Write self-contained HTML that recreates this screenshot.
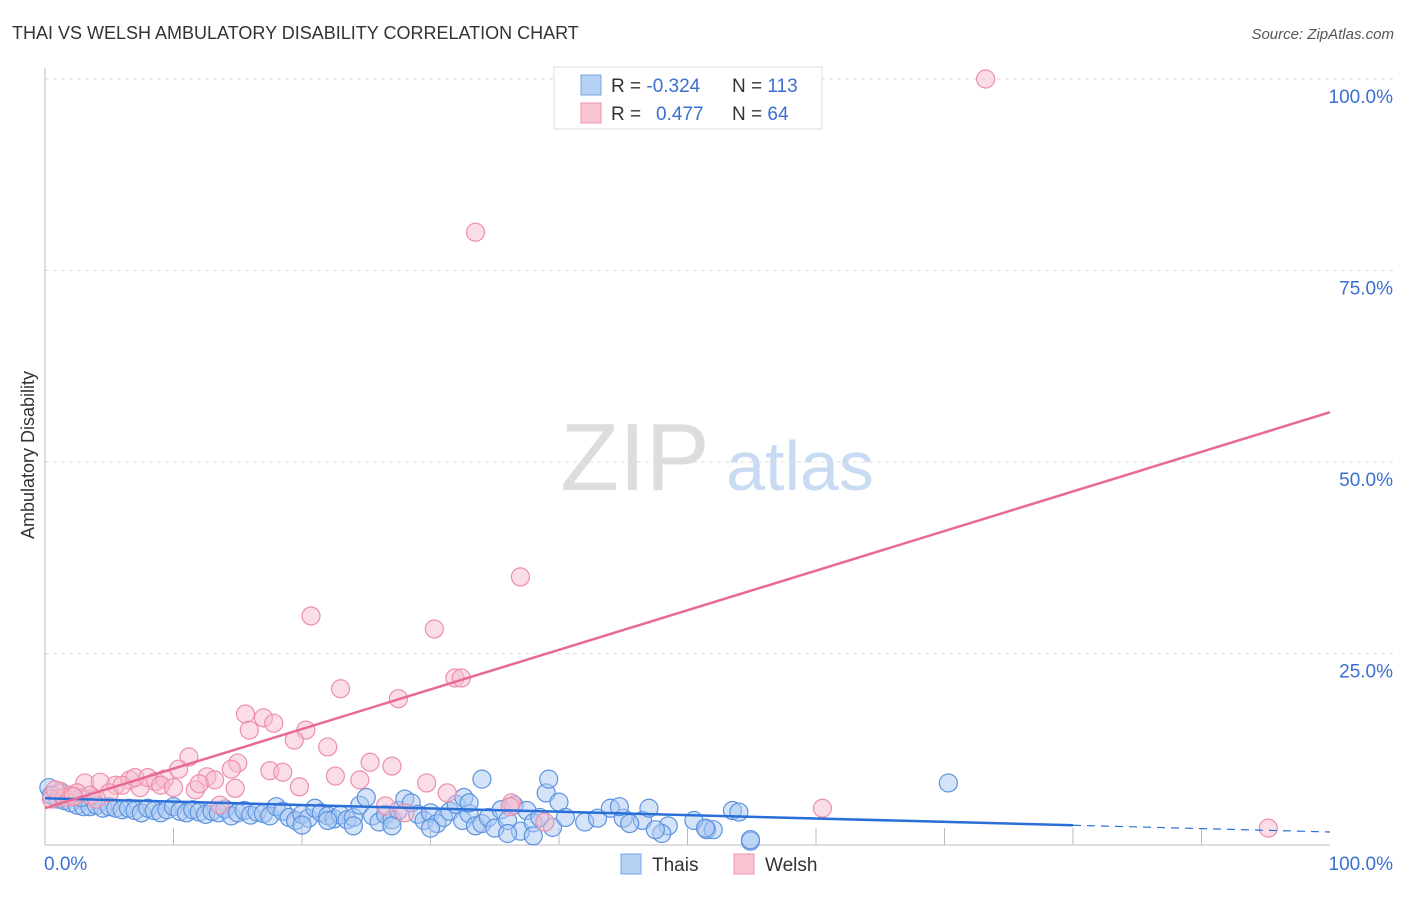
<!DOCTYPE html>
<html><head><meta charset="utf-8"><style>
body{margin:0;background:#fff;font-family:"Liberation Sans",sans-serif}
svg text{font-family:"Liberation Sans",sans-serif}
</style></head><body>
<svg id="c" width="1406" height="892">
<text x="12" y="39" font-size="18" fill="#333">THAI VS WELSH AMBULATORY DISABILITY CORRELATION CHART</text>
<text x="1394" y="39" font-size="15" fill="#555" text-anchor="end" font-style="italic">Source: ZipAtlas.com</text>
<text x="635" y="490" font-size="96" fill="#ddd" text-anchor="middle" font-family="Liberation Serif">ZIP</text>
<text x="800" y="490" font-size="70" fill="#c9dbf3" text-anchor="middle">atlas</text>
<text transform="translate(34,455) rotate(-90)" font-size="18" fill="#333" text-anchor="middle">Ambulatory Disability</text>
<g id="grid"></g><g id="pts"></g><g id="lines"></g>
<g>
<rect x="554" y="67" width="268" height="62" fill="#fff" stroke="#ddd"/>
<rect x="581" y="75" width="20" height="20" fill="#b7d1f5" stroke="#7aa5e6"/>
<rect x="581" y="103" width="20" height="20" fill="#f9c5d3" stroke="#ee93ad"/>
<text x="611" y="92" font-size="19" fill="#333">R = <tspan fill="#3a6fd1">-0.324</tspan></text>
<text x="732" y="92" font-size="19" fill="#333">N = <tspan fill="#3a6fd1">113</tspan></text>
<text x="611" y="120" font-size="19" fill="#333">R = <tspan fill="#3a6fd1" x="656">0.477</tspan></text>
<text x="732" y="120" font-size="19" fill="#333">N = <tspan fill="#3a6fd1">64</tspan></text>
</g>
<g>
<rect x="621" y="854" width="20" height="20" fill="#b7d1f5" stroke="#7aa5e6"/>
<text x="652" y="871" font-size="19" fill="#333">Thais</text>
<rect x="734" y="854" width="20" height="20" fill="#f9c5d3" stroke="#ee93ad"/>
<text x="765" y="871" font-size="19" fill="#333">Welsh</text>
</g>
<text x="44" y="870" font-size="19" fill="#3a6fd1">0.0%</text>
<text x="1393" y="870" font-size="19" fill="#3a6fd1" text-anchor="end">100.0%</text>
</svg>
<script>
const yTicks=[25,50,75,100];
const yTickLabels=["25.0%","50.0%","75.0%","100.0%"];
const thaisX=[0.3,0.5,1,1.5,2,2.5,3,3.5,4,4.5,5,5.5,6,6.5,7,7.5,8,8.5,9,9.5,10,10.5,11,11.5,12,12.5,13,13.5,14,14.5,15,15.5,16,16.5,17,17.5,18,18.5,19,19.5,20,20.5,21,21.5,22,22.5,23,23.5,24,24.5,25,25.5,26,26.5,27,27.5,28,28.5,29,29.5,30,30.5,31,31.5,32,32.5,33,33.5,34,34.5,35,35.5,36,36.5,37,37.5,38,38.5,39,39.5,40,40.5,34,42,43,44,45,39.2,46.5,45.5,47,48.5,50.5,51.5,54.9,52,53.5,48,70.3,32.6,33,20,22,24,27,30,36,38,44.7,54,51.4,47.5,54.9,1.2,2.8];
const thaisY=[7.5,6.5,6,5.8,5.5,5.2,5,5,5.2,4.8,5,4.8,4.6,4.8,4.5,4.2,4.8,4.5,4.2,4.6,5,4.4,4.2,4.6,4.3,4,4.4,4.2,4.7,3.8,4.2,4.5,3.9,4.3,4.1,3.8,5,4.4,3.6,3.2,4,3.5,4.8,4.2,3.8,3.4,3.9,3.3,3.6,5.2,6.2,3.8,3,4,3.3,4.5,6,5.5,4,3.2,4.2,2.8,3.6,4.4,5.3,3.2,4.1,2.5,2.8,3.6,2.2,4.6,3.2,5.2,1.8,4.5,2.9,3.6,6.8,2.3,5.6,3.6,8.6,3,3.5,4.8,3.5,8.6,3.2,2.8,4.8,2.5,3.2,2,0.5,2,4.5,1.5,8.1,6.2,5.5,2.6,3.2,2.5,2.5,2.2,1.5,1.2,5,4.3,2.2,2,0.7,6.8,6.2];
const welshX=[73.2,33.5,37,20.7,30.3,31.9,32.4,23,27.5,15.6,17,17.8,15.9,20.3,19.4,22,11.2,15,25.3,27,10.4,14.5,17.5,18.5,22.6,12.6,24.5,29.7,19.8,31.3,36.3,60.5,95.2,3.1,4.3,5.5,6.6,7.4,8.6,9.3,5,1.2,2,0.5,1.5,2.5,3.5,6,7,8,9,26.5,36.2,38.9,13.6,11.7,13.2,10,4,2.2,0.8,12,14.8,28];
const welshY=[100,80,35,29.9,28.2,21.8,21.8,20.4,19.1,17.1,16.6,15.9,15,15,13.7,12.8,11.5,10.7,10.8,10.3,9.9,9.9,9.7,9.5,9,8.9,8.5,8.1,7.6,6.8,5.5,4.8,2.2,8.1,8.2,7.8,8.5,7.5,8.3,8.6,6.8,7,6.5,6,6.2,6.8,6.5,7.8,8.8,8.8,7.8,5.1,5,3,5.2,7.2,8.5,7.5,6,6.3,7.2,8,7.4,4.2];
const thaiFit=[6.1,1.7];const welshFit=[4.8,56.5];
const NS="http://www.w3.org/2000/svg";
const X=v=>45+v*12.85, Y=v=>845-v*7.66;
function mk(t,a,p){const e=document.createElementNS(NS,t);for(const k in a)e.setAttribute(k,a[k]);p.appendChild(e);return e;}
const g=document.getElementById('grid');
yTicks.forEach((t,i)=>{
 const l=mk('line',{x1:45,x2:1394,y1:Y(t),y2:Y(t),stroke:'#ddd','stroke-dasharray':'4,4'},g);
 
 
 const tx=mk('text',{x:1393,y:Y(t)+24,'font-size':19,fill:'#3a6fd1','text-anchor':'end'},g);tx.textContent=yTickLabels[i];
 
 
});
mk('line',{x1:45,x2:45,y1:68,y2:845,stroke:'#bbb'},g);
mk('line',{x1:45,x2:1330,y1:845,y2:845,stroke:'#bbb'},g);
for(let i=1;i<10;i++){mk('line',{x1:X(i*10),x2:X(i*10),y1:828,y2:845,stroke:'#bbb'},g);}
const p=document.getElementById('pts');
thaisX.forEach((x,i)=>{const c=mk('circle',{cx:X(x),cy:Y(thaisY[i]),r:9,fill:'#a9c8f2','fill-opacity':0.5,stroke:'#5b93e0','stroke-width':1.2},p);
 
 });
welshX.forEach((x,i)=>{const c=mk('circle',{cx:X(x),cy:Y(welshY[i]),r:9,fill:'#f8bccd','fill-opacity':0.5,stroke:'#ec8fab','stroke-width':1.2},p);
 
 });
const L=document.getElementById('lines');
const ty=x=>thaiFit[0]+(thaiFit[1]-thaiFit[0])*x/100;
let a=mk('line',{x1:X(0),y1:Y(ty(0)),x2:X(80),y2:Y(ty(80)),stroke:'#2a6fd8','stroke-width':2.5},L);


let b=mk('line',{x1:X(80),y1:Y(ty(80)),x2:X(100),y2:Y(ty(100)),stroke:'#2a6fd8','stroke-width':1.2,'stroke-dasharray':'8,6'},L);


let w=mk('line',{x1:X(0),y1:Y(welshFit[0]),x2:X(100),y2:Y(welshFit[1]),stroke:'#e86a93','stroke-width':2.5},L);


</script>
</body></html>
